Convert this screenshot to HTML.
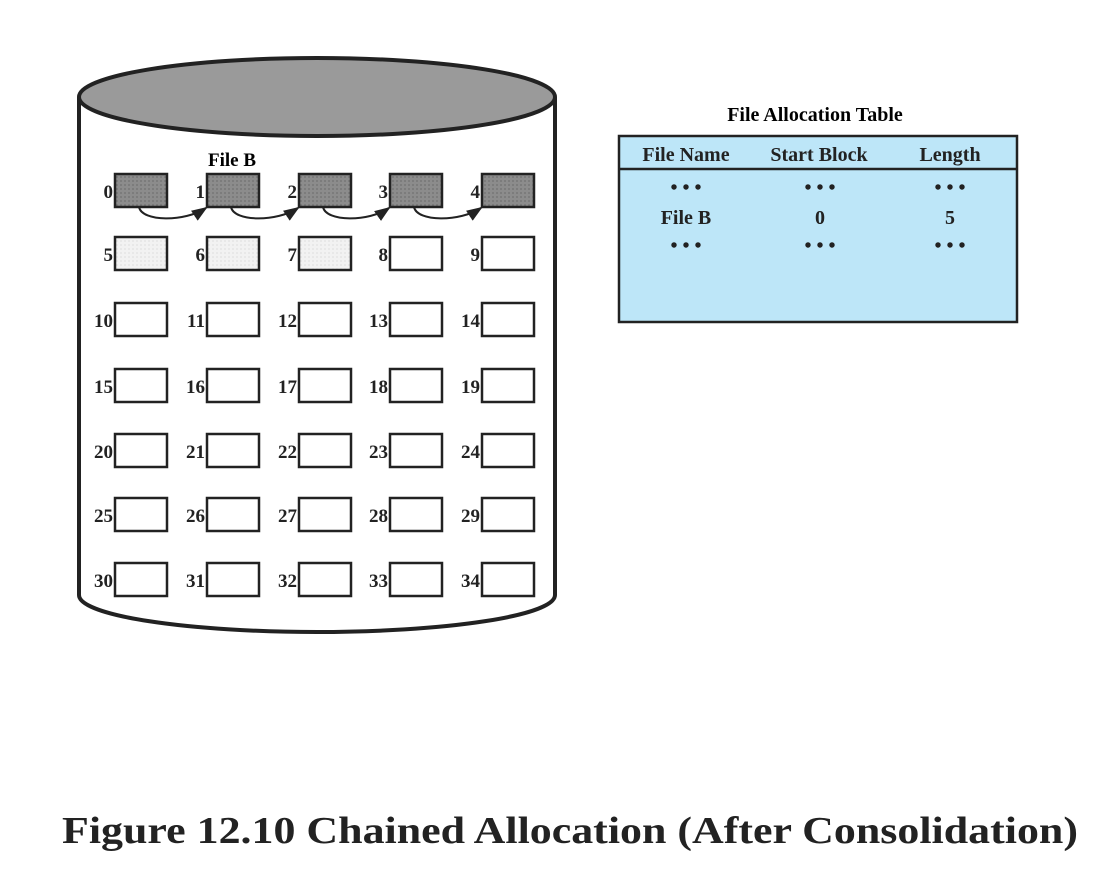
<html><body style="margin:0;background:#fff;width:1112px;height:874px;overflow:hidden">
<svg width="1112" height="874" xmlns="http://www.w3.org/2000/svg" font-family="Liberation Serif, serif" font-weight="bold">
<defs>
<pattern id="d" width="4" height="4" patternUnits="userSpaceOnUse"><rect width="4" height="4" fill="#8c8c8c"/><circle cx="1" cy="1" r="0.6" fill="#555"/></pattern>
<pattern id="l" width="4" height="4" patternUnits="userSpaceOnUse"><rect width="4" height="4" fill="#f2f2f2"/><circle cx="1" cy="1" r="0.5" fill="#bbb"/></pattern>
<marker id="a" markerWidth="8" markerHeight="8" refX="7" refY="4" orient="auto"><path d="M0,1 L8,4 L0,7 z" fill="#222"/></marker>
</defs>
<path d="M79,97 L79,595 A238,37 0 0 0 555,595 L555,97" fill="#fff" stroke="#222" stroke-width="4"/>
<ellipse cx="317" cy="97" rx="238" ry="39" fill="#9a9a9a" stroke="#222" stroke-width="4"/>
<text x="232" y="166" font-size="19" text-anchor="middle">File B</text>
<g stroke="#222" stroke-width="2.5" fill="#fff">
<rect x="115" y="174" width="52" height="33" fill="url(#d)"/><rect x="207" y="174" width="52" height="33" fill="url(#d)"/><rect x="299" y="174" width="52" height="33" fill="url(#d)"/><rect x="390" y="174" width="52" height="33" fill="url(#d)"/><rect x="482" y="174" width="52" height="33" fill="url(#d)"/>
<rect x="115" y="237" width="52" height="33" fill="url(#l)"/><rect x="207" y="237" width="52" height="33" fill="url(#l)"/><rect x="299" y="237" width="52" height="33" fill="url(#l)"/><rect x="390" y="237" width="52" height="33"/><rect x="482" y="237" width="52" height="33"/>
<rect x="115" y="303" width="52" height="33"/><rect x="207" y="303" width="52" height="33"/><rect x="299" y="303" width="52" height="33"/><rect x="390" y="303" width="52" height="33"/><rect x="482" y="303" width="52" height="33"/>
<rect x="115" y="369" width="52" height="33"/><rect x="207" y="369" width="52" height="33"/><rect x="299" y="369" width="52" height="33"/><rect x="390" y="369" width="52" height="33"/><rect x="482" y="369" width="52" height="33"/>
<rect x="115" y="434" width="52" height="33"/><rect x="207" y="434" width="52" height="33"/><rect x="299" y="434" width="52" height="33"/><rect x="390" y="434" width="52" height="33"/><rect x="482" y="434" width="52" height="33"/>
<rect x="115" y="498" width="52" height="33"/><rect x="207" y="498" width="52" height="33"/><rect x="299" y="498" width="52" height="33"/><rect x="390" y="498" width="52" height="33"/><rect x="482" y="498" width="52" height="33"/>
<rect x="115" y="563" width="52" height="33"/><rect x="207" y="563" width="52" height="33"/><rect x="299" y="563" width="52" height="33"/><rect x="390" y="563" width="52" height="33"/><rect x="482" y="563" width="52" height="33"/>
</g>
<g font-size="19" text-anchor="end" fill="#222">
<text x="113" y="198">0</text><text x="205" y="198">1</text><text x="297" y="198">2</text><text x="388" y="198">3</text><text x="480" y="198">4</text>
<text x="113" y="261">5</text><text x="205" y="261">6</text><text x="297" y="261">7</text><text x="388" y="261">8</text><text x="480" y="261">9</text>
<text x="113" y="327">10</text><text x="205" y="327">11</text><text x="297" y="327">12</text><text x="388" y="327">13</text><text x="480" y="327">14</text>
<text x="113" y="393">15</text><text x="205" y="393">16</text><text x="297" y="393">17</text><text x="388" y="393">18</text><text x="480" y="393">19</text>
<text x="113" y="458">20</text><text x="205" y="458">21</text><text x="297" y="458">22</text><text x="388" y="458">23</text><text x="480" y="458">24</text>
<text x="113" y="522">25</text><text x="205" y="522">26</text><text x="297" y="522">27</text><text x="388" y="522">28</text><text x="480" y="522">29</text>
<text x="113" y="587">30</text><text x="205" y="587">31</text><text x="297" y="587">32</text><text x="388" y="587">33</text><text x="480" y="587">34</text>
</g>
<g fill="none" stroke="#222" stroke-width="2" marker-end="url(#a)">
<path d="M139,207 C142,222 185,222 206,208"/>
<path d="M231,207 C234,222 277,222 298,208"/>
<path d="M323,207 C326,222 369,222 389,208"/>
<path d="M414,207 C417,222 460,222 481,208"/>
</g>
<text x="815" y="121" font-size="20" text-anchor="middle">File Allocation Table</text>
<rect x="619" y="136" width="398" height="186" fill="#bde6f8" stroke="#222" stroke-width="2.5"/>
<line x1="619" y1="169" x2="1017" y2="169" stroke="#222" stroke-width="2.5"/>
<g font-size="20" text-anchor="middle" fill="#222">
<text x="686" y="161">File Name</text><text x="819" y="161">Start Block</text><text x="950" y="161">Length</text>
<text x="686" y="194">• • •</text><text x="820" y="194">• • •</text><text x="950" y="194">• • •</text>
<text x="686" y="224">File B</text><text x="820" y="224">0</text><text x="950" y="224">5</text>
<text x="686" y="252">• • •</text><text x="820" y="252">• • •</text><text x="950" y="252">• • •</text>
</g>
<text x="62" y="843" font-size="38" fill="#222" textLength="1016" lengthAdjust="spacingAndGlyphs">Figure 12.10   Chained Allocation (After Consolidation)</text>
</svg>
</body></html>
